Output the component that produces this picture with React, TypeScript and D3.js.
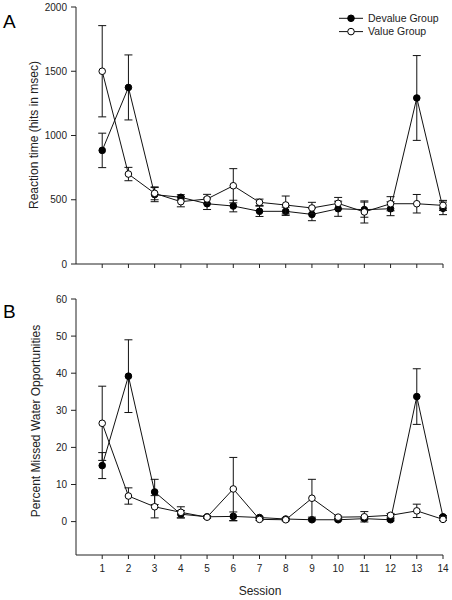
import React from "react";
import * as d3 from "d3";

const sessions = [1, 2, 3, 4, 5, 6, 7, 8, 9, 10, 11, 12, 13, 14];

// Panel A: reaction time (msec)
const rtDevalue = [884, 1374, 540, 519, 469, 451, 410, 410, 386, 430, 423, 430, 1292, 433];
const rtDevalueErr = [134, 253, 55, 20, 45, 45, 40, 32, 49, 59, 59, 54, 330, 49];
const rtValue = [1500, 700, 550, 485, 506, 609, 480, 459, 436, 472, 405, 469, 469, 456];
const rtValueErr = [355, 52, 50, 40, 36, 133, 25, 70, 44, 46, 86, 55, 72, 39];

// Panel B: percent missed water opportunities
const pmDevalue = [15.1, 39.2, 8.0, 2.0, 1.3, 1.4, 1.1, 0.7, 0.5, 0.5, 0.8, 0.5, 33.7, 1.3];
const pmDevalueErr = [3.5, 9.8, 3.4, 1.0, 0.3, 1.2, 0.3, 0.3, 0.3, 0.3, 0.3, 0.3, 7.5, 0.3];
const pmValue = [26.5, 6.9, 4.0, 2.5, 1.2, 8.8, 0.6, 0.5, 6.3, 1.2, 1.3, 1.7, 2.9, 0.6];
const pmValueErr = [10.0, 2.2, 3.0, 1.5, 0.3, 8.5, 0.3, 0.3, 5.1, 0.3, 1.4, 0.5, 1.8, 0.3];

const rtTicks = [0, 500, 1000, 1500, 2000];
const pmTicks = [0, 10, 20, 30, 40, 50, 60];
const seriesNames = ["Devalue Group", "Value Group"];

const FONT = "Arial, 'Liberation Sans', sans-serif";
const AX = "#222";

type PanelProps = {
  top: number;
  bottom: number;
  domain: [number, number];
  ticks: number[];
  dev: number[];
  devErr: number[];
  val: number[];
  valErr: number[];
  ylabel: string;
  letter: string;
  letterY: number;
  showXLabels: boolean;
  ylabelX: number;
  ylabelY: number;
};

const x = d3.scaleLinear().domain([0, 14]).range([76, 443]);

function Series({ y, vals, errs, filled }: { y: d3.ScaleLinear<number, number>; vals: number[]; errs: number[]; filled: boolean }) {
  const line = d3
    .line<number>()
    .x((_, i) => x(sessions[i]))
    .y((d) => y(d));
  return (
    <g>
      {vals.map((v, i) => {
        const cx = x(sessions[i]);
        const t = y(v + errs[i]);
        const b = y(v - errs[i]);
        return (
          <g key={"e" + i} stroke="#111" strokeWidth={1}>
            <line x1={cx} x2={cx} y1={t} y2={b} />
            <line x1={cx - 4} x2={cx + 4} y1={t} y2={t} />
            <line x1={cx - 4} x2={cx + 4} y1={b} y2={b} />
          </g>
        );
      })}
      <path d={line(vals) || ""} fill="none" stroke="#111" strokeWidth={1} />
      {vals.map((v, i) => (
        <circle key={"c" + i} cx={x(sessions[i])} cy={y(v)} r={3.3} fill={filled ? "#000" : "#fff"} stroke="#000" strokeWidth={1} />
      ))}
    </g>
  );
}

function Panel(p: PanelProps) {
  const y = d3.scaleLinear().domain(p.domain).range([p.bottom, p.top]);
  const x0 = x(0);
  return (
    <g>
      <text x={3} y={p.letterY} fontSize={19} fontFamily={FONT} fill="#000">
        {p.letter}
      </text>
      <line x1={x0} x2={x0} y1={p.top} y2={p.bottom} stroke={AX} strokeWidth={1} />
      <line x1={x0} x2={x(14)} y1={p.bottom} y2={p.bottom} stroke={AX} strokeWidth={1} />
      {p.ticks.map((t) => (
        <g key={t}>
          <line x1={x0 - 5} x2={x0} y1={y(t)} y2={y(t)} stroke={AX} />
          <text x={x0 - 9} y={y(t)} dy="0.35em" textAnchor="end" fontSize={10} fontFamily={FONT} fill={AX}>
            {t}
          </text>
        </g>
      ))}
      {sessions.map((s) => (
        <g key={s}>
          <line x1={x(s)} x2={x(s)} y1={p.bottom} y2={p.bottom + 4} stroke={AX} />
          {p.showXLabels && (
            <text x={x(s)} y={p.bottom + 17} textAnchor="middle" fontSize={10} fontFamily={FONT} fill={AX}>
              {s}
            </text>
          )}
        </g>
      ))}
      <text
        transform={`translate(${p.ylabelX},${p.ylabelY}) rotate(-90)`}
        textAnchor="middle"
        fontSize={12}
        fontFamily={FONT}
        fill={AX}
      >
        {p.ylabel}
      </text>
      <Series y={y} vals={p.dev} errs={p.devErr} filled={true} />
      <Series y={y} vals={p.val} errs={p.valErr} filled={false} />
    </g>
  );
}

export default function App() {
  return (
    <svg width={452} height={600} style={{ position: "absolute", left: 0, top: 0, background: "#fff" }}>
      <rect width={452} height={600} fill="#fff" />
      <Panel
        top={7}
        bottom={264}
        domain={[0, 2000]}
        ticks={rtTicks}
        dev={rtDevalue}
        devErr={rtDevalueErr}
        val={rtValue}
        valErr={rtValueErr}
        ylabel="Reaction time (hits in msec)"
        letter="A"
        letterY={28}
        showXLabels={false}
        ylabelX={38}
        ylabelY={135}
      />
      <Panel
        top={299}
        bottom={555}
        domain={[-9, 60]}
        ticks={pmTicks}
        dev={pmDevalue}
        devErr={pmDevalueErr}
        val={pmValue}
        valErr={pmValueErr}
        ylabel="Percent Missed Water Opportunities"
        letter="B"
        letterY={318}
        showXLabels={true}
        ylabelX={40}
        ylabelY={421}
      />
      <text x={260} y={595} textAnchor="middle" fontSize={12} fontFamily={FONT} fill={AX}>
        Session
      </text>
      {seriesNames.map((name, i) => {
        const ly = 18.3 + i * 13.3;
        return (
          <g key={name}>
            <line x1={339} x2={363} y1={ly} y2={ly} stroke="#111" />
            <circle cx={351} cy={ly} r={3.3} fill={i === 0 ? "#000" : "#fff"} stroke="#000" />
            <text x={368} y={ly} dy="0.35em" fontSize={10.5} fontFamily={FONT} fill={AX}>
              {name}
            </text>
          </g>
        );
      })}
    </svg>
  );
}
